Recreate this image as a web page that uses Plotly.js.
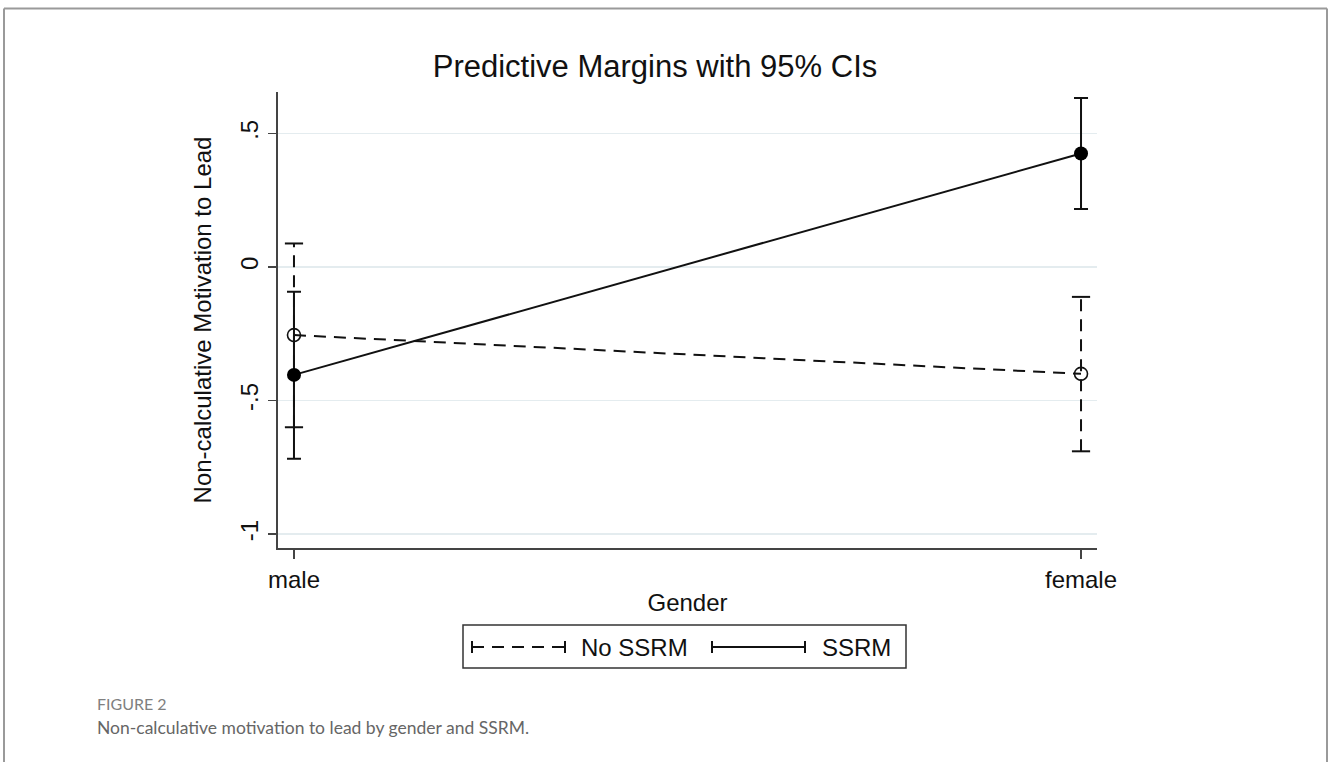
<!DOCTYPE html>
<html>
<head>
<meta charset="utf-8">
<script src="https://cdn.plot.ly/plotly-3.0.1.min.js"></script>
<style>
  html, body { margin: 0; padding: 0; background: #fff; }
  #chart { width: 1328px; height: 762px; }
</style>
</head>
<body>
<div id="chart"></div>
<script>
// ---- data ----
const genders = ['male', 'female'];
const ssrmMargin = [-0.404, 0.425];
const ssrmLower = [-0.718, 0.217];
const ssrmUpper = [-0.093, 0.633];
const noSsrmMargin = [-0.255, -0.400];
const noSsrmLower = [-0.600, -0.690];
const noSsrmUpper = [0.088, -0.112];
const yTickVals = [-1, -0.5, 0, 0.5];
const yTickText = ['-1', '-.5', '0', '.5'];
const seriesNames = ['No SSRM', 'SSRM'];

const traces = [];
// dashed CIs for No SSRM
genders.forEach((g, i) => {
  traces.push({
    x: [g, g], y: [noSsrmLower[i], noSsrmUpper[i]],
    mode: 'lines+markers', type: 'scatter', showlegend: false, hoverinfo: 'skip',
    line: { color: '#111', width: 2, dash: '12px,8px' },
    marker: { symbol: 'line-ew', size: 13, line: { width: 2, color: '#111' }, color: '#111' }
  });
});
// SSRM with solid CIs
traces.push({
  x: genders, y: ssrmMargin, name: seriesNames[1], type: 'scatter', mode: 'lines+markers',
  showlegend: false,
  line: { color: '#111', width: 2 },
  marker: { symbol: 'circle', size: 14, color: '#000' },
  error_y: {
    type: 'data', symmetric: false,
    array: ssrmUpper.map((u, i) => u - ssrmMargin[i]),
    arrayminus: ssrmLower.map((l, i) => ssrmMargin[i] - l),
    color: '#111', thickness: 2, width: 7
  }
});
// No SSRM line + hollow markers
traces.push({
  x: genders, y: noSsrmMargin, name: seriesNames[0], type: 'scatter', mode: 'lines+markers',
  showlegend: false,
  line: { color: '#111', width: 2, dash: '12px,8px' },
  marker: { symbol: 'circle-open', size: 13, color: '#111', line: { width: 1.6, color: '#111' } }
});

// plot area in pixels: x 278..1097, y 92..548
const L = 278, R = 1097, T = 92, B = 548;
const px = v => (v - L) / (R - L);
const py = v => (B - v) / (B - T);

const shapes = [
  // outer frame
  { type: 'line', xref: 'paper', yref: 'paper', x0: px(4), x1: px(1327), y0: py(8.5), y1: py(8.5), line: { color: '#9a9a9a', width: 2 } },
  { type: 'line', xref: 'paper', yref: 'paper', x0: px(4), x1: px(4), y0: py(8.5), y1: py(762), line: { color: '#9a9a9a', width: 2 } },
  { type: 'line', xref: 'paper', yref: 'paper', x0: px(1327), x1: px(1327), y0: py(8.5), y1: py(762), line: { color: '#9a9a9a', width: 2 } },
  // legend box
  { type: 'rect', xref: 'paper', yref: 'paper', x0: px(463), x1: px(906), y0: py(625), y1: py(668), line: { color: '#333', width: 1.5 }, fillcolor: 'rgba(0,0,0,0)' },
  // legend No SSRM dashed
  { type: 'line', xref: 'paper', yref: 'paper', x0: px(472), x1: px(565), y0: py(647), y1: py(647), line: { color: '#111', width: 2, dash: '12px,8px' } },
  { type: 'line', xref: 'paper', yref: 'paper', x0: px(472), x1: px(472), y0: py(641), y1: py(653), line: { color: '#111', width: 2 } },
  { type: 'line', xref: 'paper', yref: 'paper', x0: px(565), x1: px(565), y0: py(641), y1: py(653), line: { color: '#111', width: 2 } },
  // legend SSRM solid
  { type: 'line', xref: 'paper', yref: 'paper', x0: px(712), x1: px(805), y0: py(647), y1: py(647), line: { color: '#111', width: 2 } },
  { type: 'line', xref: 'paper', yref: 'paper', x0: px(712), x1: px(712), y0: py(641), y1: py(653), line: { color: '#111', width: 2 } },
  { type: 'line', xref: 'paper', yref: 'paper', x0: px(805), x1: px(805), y0: py(641), y1: py(653), line: { color: '#111', width: 2 } }
];

const annotations = [
  { xref: 'paper', yref: 'paper', x: px(579), y: py(647), xanchor: 'left', yanchor: 'middle', showarrow: false,
    text: seriesNames[0], font: { family: 'Liberation Sans, Arial, sans-serif', size: 24, color: '#111' } },
  { xref: 'paper', yref: 'paper', x: px(820), y: py(647), xanchor: 'left', yanchor: 'middle', showarrow: false,
    text: seriesNames[1], font: { family: 'Liberation Sans, Arial, sans-serif', size: 24, color: '#111' } },
  { xref: 'paper', yref: 'paper', x: px(95), y: py(703), xanchor: 'left', yanchor: 'middle', showarrow: false,
    text: 'FIGURE 2', font: { family: 'Lato, sans-serif', size: 16, color: '#808080' } },
  { xref: 'paper', yref: 'paper', x: px(95), y: py(727), xanchor: 'left', yanchor: 'middle', showarrow: false,
    text: 'Non-calculative motivation to lead by gender and SSRM.', font: { family: 'Lato, sans-serif', size: 17.5, color: '#666' } }
];

const layout = {
  width: 1328, height: 762,
  paper_bgcolor: '#fff', plot_bgcolor: '#fff',
  margin: { l: L, r: 1328 - R, t: T, b: 762 - B, pad: 0 },
  showlegend: false,
  font: { family: 'Liberation Sans, Arial, sans-serif', color: '#111' },
  title: { text: 'Predictive Margins with 95% CIs', xref: 'container', yref: 'container',
    x: 655 / 1328, xanchor: 'center', y: 1 - 66 / 762, yanchor: 'middle',
    font: { family: 'Liberation Sans, Arial, sans-serif', size: 31, color: '#111' } },
  xaxis: {
    type: 'category', categoryorder: 'array', categoryarray: genders,
    range: [-0.0203, 1.0203], showgrid: false, zeroline: false,
    showline: true, linecolor: '#444', linewidth: 2,
    ticks: 'outside', ticklen: 9, tickwidth: 1.5, tickcolor: '#444',
    tickfont: { size: 24, color: '#111' },
    title: { text: 'Gender', font: { size: 24, color: '#111' }, standoff: 2 }
  },
  yaxis: {
    range: [-1.052, 0.655], tickvals: yTickVals, ticktext: yTickText, tickangle: -90,
    showgrid: true, gridcolor: '#e4ecef', gridwidth: 1.5, zeroline: false,
    showline: true, linecolor: '#444', linewidth: 2,
    ticks: 'outside', ticklen: 8, tickwidth: 1.5, tickcolor: '#444',
    tickfont: { size: 24, color: '#111' },
    title: { text: 'Non-calculative Motivation to Lead', font: { size: 24, color: '#111' }, standoff: 18 }
  },
  shapes: shapes,
  annotations: annotations
};

Plotly.newPlot('chart', traces, layout, { displayModeBar: false, staticPlot: true });
</script>
</body>
</html>
